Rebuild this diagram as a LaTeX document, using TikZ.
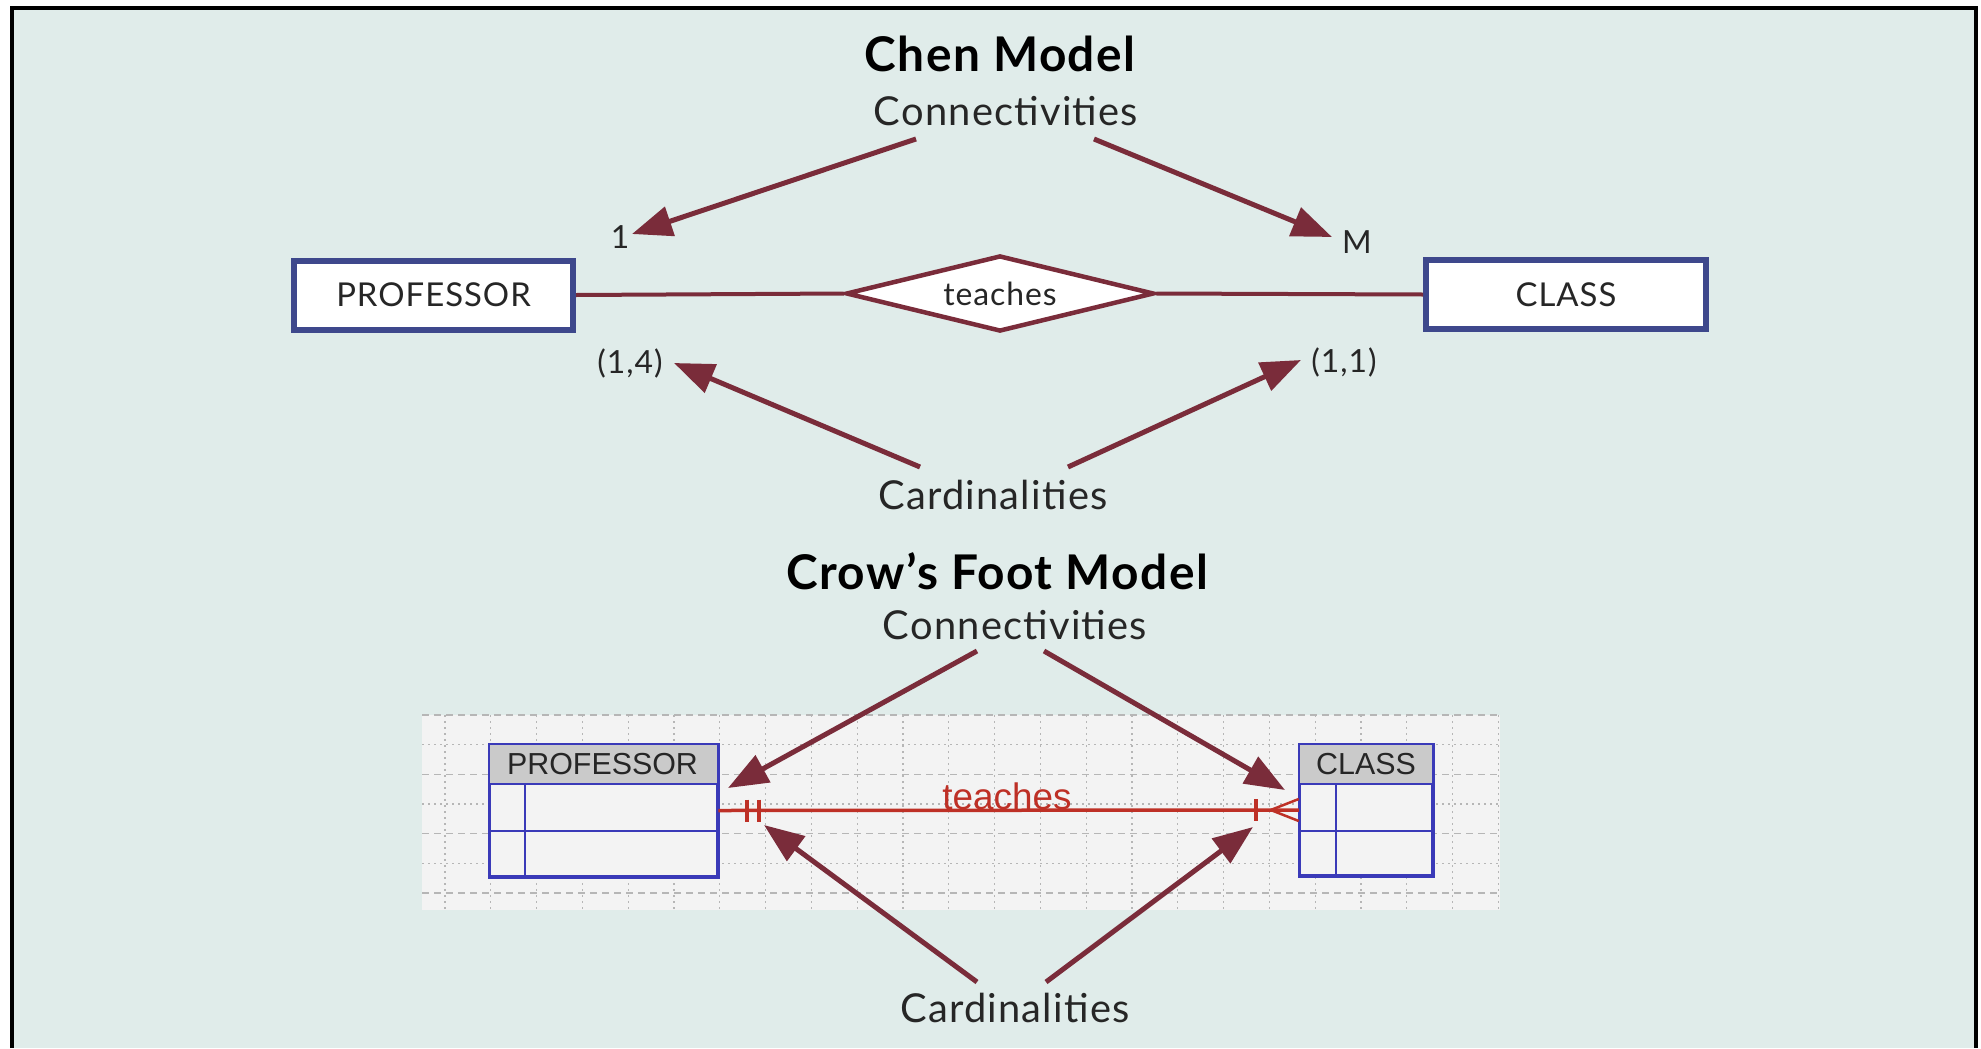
\documentclass[tikz,border=0pt]{standalone}
\usepackage{fontspec}
\setmainfont{Lato}
\newfontfamily\spacedfont[LetterSpace=3]{Lato}
\newfontfamily\arialfont{Liberation Sans}
\usetikzlibrary{arrows.meta,shapes.geometric,calc}

\definecolor{panelbg}{RGB}{224,236,234}
\definecolor{arrowred}{RGB}{122,44,58}
\definecolor{entblue}{RGB}{62,72,140}
\definecolor{tblblue}{RGB}{58,58,184}
\definecolor{relred}{RGB}{190,48,38}
\definecolor{gridbg}{RGB}{243,243,243}
\definecolor{gridline}{RGB}{182,182,182}
\definecolor{hdrgray}{RGB}{202,202,202}
\definecolor{txtgray}{RGB}{38,38,38}

\tikzset{
  heading/.style={font=\spacedfont\fontsize{48}{56}\selectfont\bfseries, text=black, inner sep=0pt},
  caption/.style={font=\spacedfont\fontsize{40}{48}\selectfont, text=txtgray, inner sep=0pt},
  small/.style={font=\spacedfont\fontsize{32}{38}\selectfont, text=txtgray, inner sep=0pt},
  entity/.style={draw=entblue, line width=6bp, fill=white, inner sep=0pt,
    font=\spacedfont\fontsize{33}{40}\selectfont, text=txtgray},
  relship/.style={diamond, aspect=4, draw=arrowred, line width=4.5bp, fill=white, inner sep=0pt,
    font=\spacedfont\fontsize{32}{38}\selectfont, text=txtgray},
  chenline/.style={draw=arrowred, line width=4bp},
  pointer/.style={draw=arrowred, line width=5bp, -{Triangle[length=40bp,width=30bp]}},
  table/.style={draw=tblblue, line width=2.5bp, fill=gridbg, inner sep=0pt},
  tblrule/.style={draw=tblblue, line width=2.5bp},
  hdrtext/.style={font=\arialfont\fontsize{30.5}{36}\selectfont, text=txtgray, inner sep=0pt},
  crowrel/.style={draw=relred, line width=3.5bp},
  crowmark/.style={draw=relred, line width=4bp},
  gridh/.style={draw=gridline, line width=1.3bp, dash pattern=on 7bp off 5bp},
  gridd/.style={draw=gridline, line width=1.3bp, dash pattern=on 2bp off 4bp},
}

\begin{document}
\begin{tikzpicture}[x=1bp, y=-1bp]
  \useasboundingbox (0,0) rectangle (1981,1048);
  % panel and its frame (open at the bottom)
  \fill[white] (0,0) rectangle (1981,1048);
  \fill[panelbg] (12,8) rectangle (1976,1048);
  \draw[black, line width=4bp] (12,1048) -- (12,8) -- (1976,8) -- (1976,1048);

  % ---------------- Chen model ----------------
  \node[heading] (chen) at (1000,54) {Chen Model};
  \node[caption] (conntop) at (1006,111) {Connectivities};

  \node[entity, minimum width=279bp, minimum height=69bp] (prof) at (433.5,295) {PROFESSOR};
  \node[entity, minimum width=280bp, minimum height=69bp] (class) at (1566,294.5) {CLASS};
  \node[relship, minimum width=308bp, minimum height=76bp] (teach) at (1000,293.5) {teaches};

  \draw[chenline] (prof.east) -- (teach.west);
  \draw[chenline] (teach.east) -- (class.west);

  \node[small] (one) at (620,237) {1};
  \node[small] (many) at (1357,242) {M};
  \node[small] (cardp) at (630,363) {(1,4)};
  \node[small] (cardc) at (1344,362) {(1,1)};
  \node[caption] (cardtop) at (993,495) {Cardinalities};

  \coordinate (c1) at (916,139);
  \coordinate (c2) at (1094,139);
  \coordinate (c3) at (920,467);
  \coordinate (c4) at (1068,467);
  \draw[pointer] (c1) -- (632,234);
  \draw[pointer] (c2) -- (1332,237);
  \draw[pointer] (c3) -- (674,363);
  \draw[pointer] (c4) -- (1301,360);

  % ---------------- Crow's Foot model ----------------
  \node[heading] (crow) at (997,571) {Crow’s Foot Model};
  \node[caption] (connbot) at (1015,625) {Connectivities};
  \node[caption] (cardbot) at (1015,1008) {Cardinalities};

  % drawing-canvas grid
  \fill[gridbg] (422,715) rectangle (1500,910);
  \foreach \k in {0,...,6} {
    \pgfmathsetmacro{\yy}{715+29.67*\k}
    \ifodd\k
      \draw[gridd] (422,\yy) -- (1500,\yy);
    \else
      \draw[gridh] (422,\yy) -- (1500,\yy);
    \fi
  }
  \foreach \k in {0,...,23} {
    \pgfmathsetmacro{\xx}{445+45.8*\k}
    \draw[gridd] (\xx,715) -- (\xx,910);
  }

  % PROFESSOR table
  \node[table, minimum width=227bp, minimum height=131bp] (ptab) at (603.5,810.5) {};
  \fill[hdrgray] (ptab.north west) rectangle ($(ptab.north east)+(0,40)$);
  \draw[tblrule] (ptab.north west) rectangle (ptab.south east);
  \draw[tblrule] ($(ptab.north west)+(0,40)$) -- ($(ptab.north east)+(0,40)$);
  \draw[tblrule] ($(ptab.north west)+(36,40)$) -- ($(ptab.south west)+(36,0)$);
  \draw[tblrule] ($(ptab.north west)+(0,87)$) -- ($(ptab.north east)+(0,87)$);
  \node[hdrtext] (phead) at ($(ptab.north)+(-1,20)$) {PROFESSOR};

  % CLASS table
  \node[table, minimum width=132bp, minimum height=130bp] (ctab) at (1366,810) {};
  \fill[hdrgray] (ctab.north west) rectangle ($(ctab.north east)+(0,40)$);
  \draw[tblrule] (ctab.north west) rectangle (ctab.south east);
  \draw[tblrule] ($(ctab.north west)+(0,40)$) -- ($(ctab.north east)+(0,40)$);
  \draw[tblrule] ($(ctab.north west)+(37,40)$) -- ($(ctab.south west)+(37,0)$);
  \draw[tblrule] ($(ctab.north west)+(0,87)$) -- ($(ctab.north east)+(0,87)$);
  \node[hdrtext] (chead) at ($(ctab.north)+(0,20)$) {CLASS};

  % relationship line with its end markers
  \draw[crowrel] (ptab.east) -- (ctab.west);
  \node[font=\arialfont\fontsize{37}{42}\selectfont, text=relred, inner sep=0pt, anchor=base]
    (crowteach) at (1007,809) {teaches};
  \draw[crowmark] ($(ptab.east)+(29,-11)$) -- ++(0,22);
  \draw[crowmark] ($(ptab.east)+(41,-11)$) -- ++(0,22);
  \draw[crowmark] ($(ctab.west)+(-43,-11)$) -- ++(0,22);
  \draw[crowrel, line width=2.5bp] ($(ctab.west)+(-28,0)$) -- ($(ctab.west)+(0,-11)$);
  \draw[crowrel, line width=2.5bp] ($(ctab.west)+(-28,0)$) -- ($(ctab.west)+(0,11)$);

  \coordinate (d1) at (977,651);
  \coordinate (d2) at (1044,651);
  \coordinate (d3) at (977,982);
  \coordinate (d4) at (1046,982);
  \draw[pointer] (d1) -- (728,788);
  \draw[pointer] (d2) -- (1285,790);
  \draw[pointer] (d3) -- (764,825);
  \draw[pointer] (d4) -- (1253,827);
\end{tikzpicture}
\end{document}
